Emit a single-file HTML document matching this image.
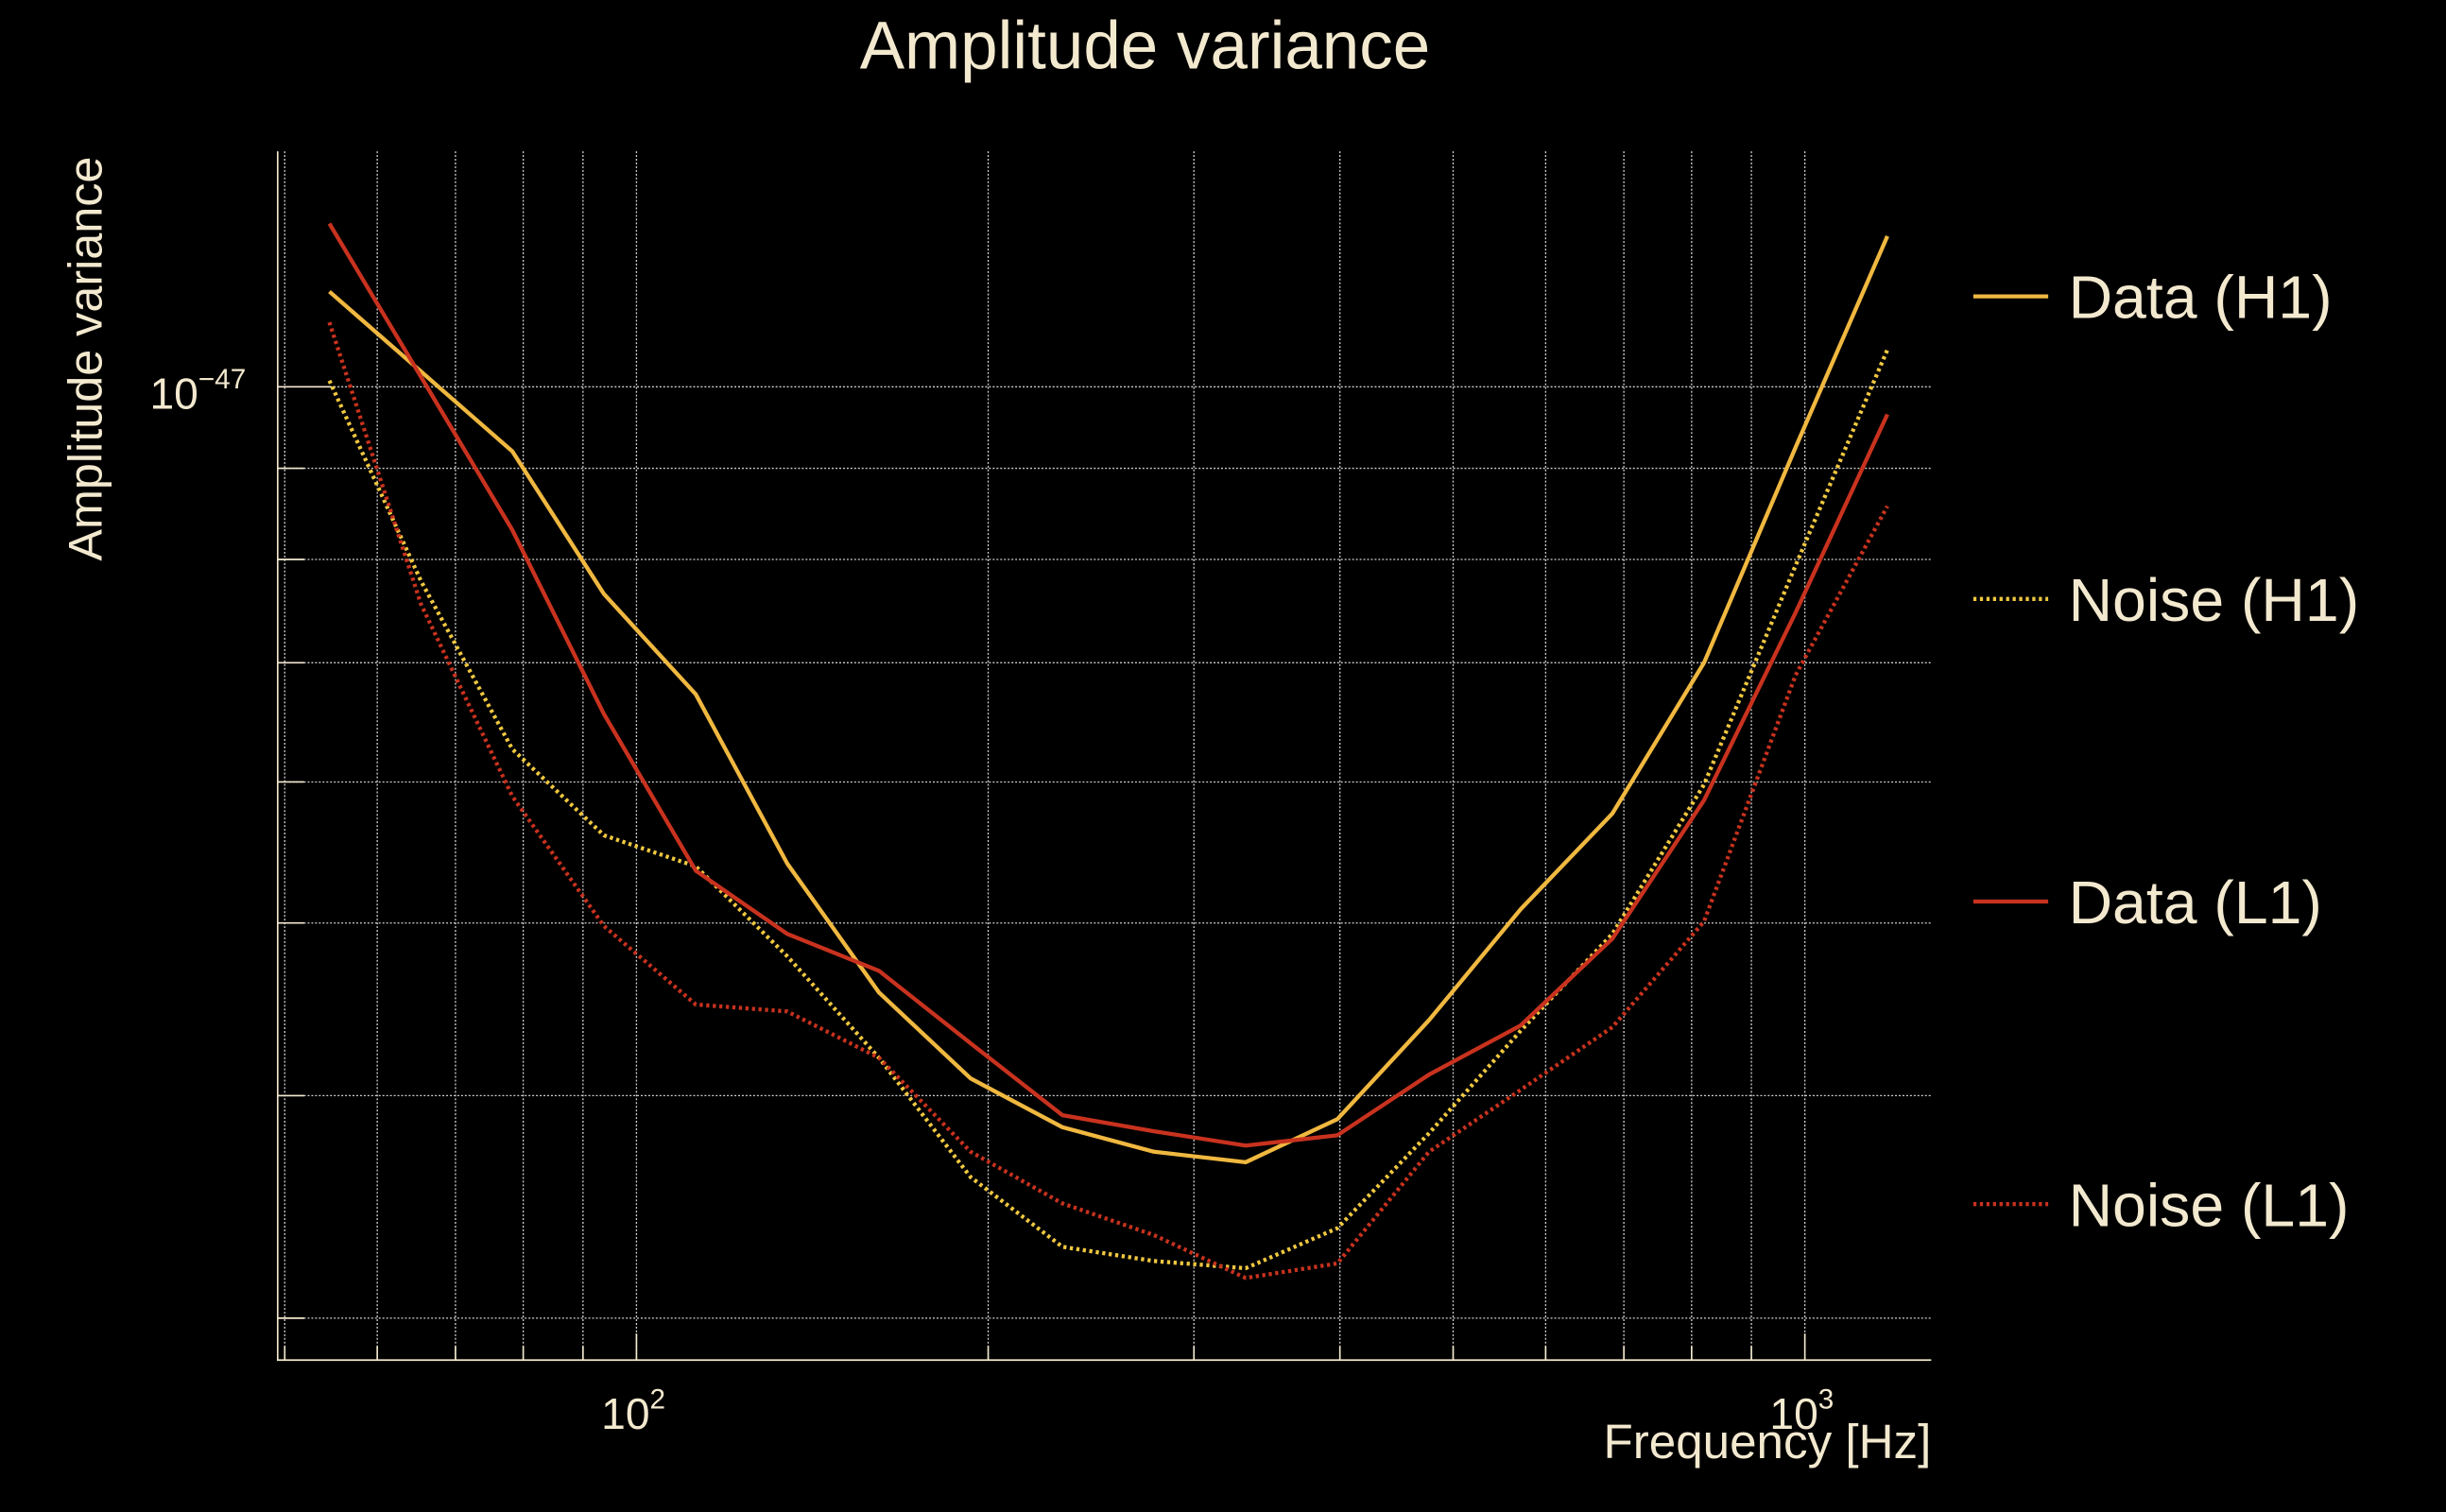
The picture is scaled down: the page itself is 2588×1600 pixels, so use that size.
<!DOCTYPE html>
<html><head><meta charset="utf-8"><style>
html,body{margin:0;padding:0;background:#000;}
svg{display:block;}
text{font-family:"Liberation Sans",sans-serif;fill:#f3e9cf;}
</style></head><body>
<svg id="chart" width="2588" height="1600" viewBox="0 0 1568 969.4" preserveAspectRatio="none" xmlns="http://www.w3.org/2000/svg">
<rect x="0" y="0" width="1568" height="969.4" fill="#000"/>
<text x="734" y="44" font-size="43" text-anchor="middle">Amplitude variance</text>
<text transform="translate(65,230) rotate(-90)" font-size="30.5" text-anchor="middle">Amplitude variance</text>
<text x="1238" y="935" font-size="31" text-anchor="end">Frequency [Hz]</text>
<g id="grid"></g>
<g id="series"></g>
<g id="axes"></g>
<g id="legend"></g>
</svg>
<script>
// Frequencies (Hz)
const freqs = [54.6,65.4,78.3,93.8,112.4,134.6,161.3,193.2,231.5,277.3,332.2,398.0,476.8,571.2,684.3,819.8,982.1,1176.6];
// Values in units of 1e-48
const dataH1 = [11.31,10.20,9.20,7.65,6.72,5.40,4.57,4.09,3.84,3.72,3.67,3.88,4.41,5.09,5.76,7.00,9.25,12.15];
const noiseH1 = [10.08,7.78,6.26,5.60,5.38,4.79,4.20,3.60,3.29,3.23,3.20,3.37,3.81,4.35,4.93,5.98,7.94,10.49];
const dataL1 = [12.35,10.13,8.31,6.55,5.35,4.93,4.70,4.28,3.90,3.82,3.75,3.80,4.11,4.38,4.90,5.86,7.47,9.65];
const noiseL1 = [10.87,7.55,5.89,4.98,4.50,4.46,4.20,3.72,3.48,3.34,3.16,3.22,3.72,4.03,4.37,5.01,6.89,8.57];
const seriesNames = ["Data (H1)","Noise (H1)","Data (L1)","Noise (L1)"];
const xTickLabels = ["2","3"];
const yTickLabels = ["−47"];

const NS="http://www.w3.org/2000/svg";
const L=178,R=1238,T=97,B=872;
function xs(f){return 408+(Math.log10(f)-2)*749;}
function ys(v){return 248-(Math.log10(v*1e-48)+47)*1142;}
function mk(tag,attrs,parent){const e=document.createElementNS(NS,tag);for(const k in attrs)e.setAttribute(k,attrs[k]);parent.appendChild(e);return e;}
const grid=document.getElementById('grid'),axes=document.getElementById('axes'),ser=document.getElementById('series'),leg=document.getElementById('legend');

for(let d=1;d<=3;d++){for(let m=1;m<=9;m++){const f=m*Math.pow(10,d);const x=xs(f);if(x<L||x>R)continue;
 const g=mk('line',{x1:x,x2:x,y1:T,y2:B,stroke:'#cfcfcf','stroke-width':0.8,'stroke-dasharray':'1.2,1.2'},grid);
 
 
 const t=mk('line',{x1:x,x2:x,y1:B,y2:B-(m===1?17:9),stroke:'#f3e9cf','stroke-width':1},axes);
 
 
}}
for(const v of [3,4,5,6,7,8,9,10]){const y=ys(v);
 const g=mk('line',{x1:L,x2:R,y1:y,y2:y,stroke:'#cfcfcf','stroke-width':0.8,'stroke-dasharray':'1.2,1.2'},grid);
 
 
 const t=mk('line',{x1:L,x2:L+(v===10?34:17),y1:y,y2:y,stroke:'#f3e9cf','stroke-width':1},axes);
 
 
}
const ax=mk('path',{d:`M${L},${T} L${L},${B} L${R},${B}`,fill:'none',stroke:'#f3e9cf','stroke-width':1},axes);


xTickLabels.forEach((p,i)=>{const x=xs(Math.pow(10,2+i));
 const t=mk('text',{x:x-2,y:916,'font-size':28,'text-anchor':'middle'},axes);
 
 
 t.textContent='10';const s=mk('tspan',{dy:-13,'font-size':18},t);s.textContent=p;});
yTickLabels.forEach(p=>{const y=ys(10);
 const t=mk('text',{x:96,y:y+14,'font-size':28},axes);
 
 
 t.textContent='10';const s=mk('tspan',{dy:-13,'font-size':18},t);s.textContent=p;});

const styles=[{c:'#f0b840',d:null},{c:'#f0c840',d:'2,2.2'},{c:'#c8321e',d:null},{c:'#c8321e',d:'2,2.2'}];
const allSeries=[dataH1,noiseH1,dataL1,noiseL1];
const names=['data-h1-line','noise-h1-line','data-l1-line','noise-l1-line'];
allSeries.forEach((vals,i)=>{
 const d=vals.map((v,j)=>(j?'L':'M')+xs(freqs[j]).toFixed(2)+','+ys(v).toFixed(2)).join(' ');
 const a={d:d,fill:'none',stroke:styles[i].c,'stroke-width':2.6,'stroke-linejoin':'round'};
 if(styles[i].d)a['stroke-dasharray']=styles[i].d;
 const p=mk('path',a,ser);
 
 
 const ly=190+i*194;
 const la={x1:1265,x2:1313,y1:ly,y2:ly,stroke:styles[i].c,'stroke-width':2.6};
 if(styles[i].d)la['stroke-dasharray']=styles[i].d;
 const ll=mk('line',la,leg);
 
 
 const lt=mk('text',{x:1326,y:ly+14,'font-size':39},leg);
 
 
 lt.textContent=seriesNames[i];
});
</script>
</body></html>
